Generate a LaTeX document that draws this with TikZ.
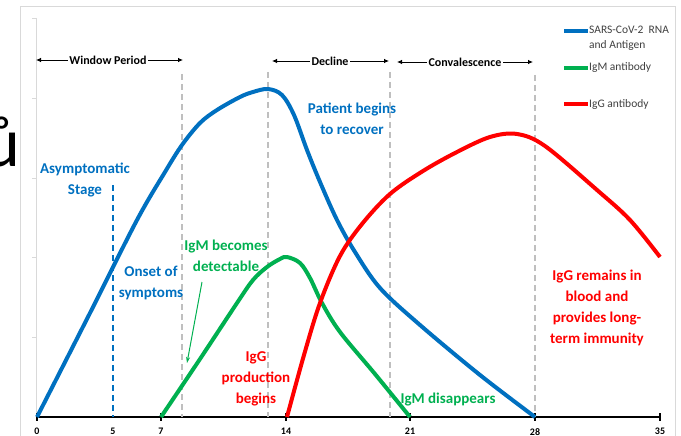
\documentclass[tikz,border=0pt]{standalone}
\usepackage{fontspec}
\setmainfont{Carlito}
\usetikzlibrary{arrows.meta}
\definecolor{rnablue}{HTML}{0070C0}
\definecolor{igmgreen}{HTML}{00B050}
\definecolor{iggred}{HTML}{FF0000}
\definecolor{framegray}{HTML}{D9D9D9}
\definecolor{dashgray}{HTML}{BFBFBF}
\definecolor{legendtext}{HTML}{404040}

\begin{document}
\begin{tikzpicture}
                [
                x=1pt, y=-1pt,
                curve/.style={line width=4pt, line join=round},
                period/.style={font=\fontsize{12}{14}\selectfont\bfseries, inner sep=1.5pt},
                periodarrow/.style={-{Latex[length=5pt,width=4.5pt]}, line width=0.8pt},
                phase/.style={dashgray, line width=1.5pt, dash pattern=on 6pt off 4pt},
                note/.style={font=\fontsize{15}{21}\selectfont\bfseries, align=center, anchor=base, inner sep=0pt},
                ticklabel/.style={font=\fontsize{10}{12}\selectfont\bfseries, anchor=north, inner sep=0pt},
                legendline/.style={line width=4pt},
                legendlabel/.style={font=\fontsize{11.5}{15}\selectfont, text=legendtext, anchor=base west, inner sep=0pt, align=left}
                ]
            \useasboundingbox (0,0) rectangle (681,436);
            \node[font=\fontsize{70}{80}\selectfont, anchor=base, inner sep=0pt] (cut) at (2,167) {ů};
            % chart frame and axes
            \draw[framegray] (20,436) -- (20,6) -- (675,6) -- (675,436);
            \draw[framegray] (36,18) -- (36,417);
            \foreach \y in {18,98,178,257,337}
                \draw[framegray] (32,\y) -- (36,\y);
            \draw[line width=1.8pt] (36,417) -- (661,417);
            \foreach \x in {37,161,286,410,535,660}
                \draw[line width=1.2pt] (\x,413) -- (\x,421);
            \foreach \x/\t in {37/0,113/5,161/7,286/14,410/21,535/28,660/35}
                \node[ticklabel] (t\t) at (\x,428) {\t};
            % phases
            \draw[phase] (182,74) -- (182,417);
            \draw[phase] (268,72) -- (268,417);
            \draw[phase] (390,72) -- (390,417);
            \draw[phase] (535,75) -- (535,417);
            \draw[rnablue, line width=1.3pt, dash pattern=on 6pt off 4pt] (113,185) -- (113,417);
            \node[period] (wp) at (108,60) {Window Period};
            \coordinate (wpL) at (36,60);
            \coordinate (wpR) at (183,60);
            \draw[periodarrow] (wp) -- (wpL);
            \draw[periodarrow] (wp) -- (wpR);
            \node[period] (dec) at (330,61) {Decline};
            \coordinate (decL) at (272,61);
            \coordinate (decR) at (389,61);
            \draw[periodarrow] (dec) -- (decL);
            \draw[periodarrow] (dec) -- (decR);
            \node[period] (conv) at (465,62) {Convalescence};
            \coordinate (convL) at (397,62);
            \coordinate (convR) at (533,62);
            \draw[periodarrow] (conv) -- (convL);
            \draw[periodarrow] (conv) -- (convR);
            % curves
            \draw[curve, rnablue] plot[smooth, tension=0.55] coordinates {(37,417) (90,313) (137,220) (165,172) (182,145) (200,123) (217,110) (240,97) (253,92) (268,89) (282,95) (294,115) (307,150) (320,182) (337,220) (355,252) (380,288) (420,325) (480,375) (535,417)};
            \draw[curve, igmgreen] plot[smooth, tension=0.55] coordinates {(161,417) (200,359) (237,303) (253,280) (267,267) (280,259) (287,257) (300,263) (310,278) (322,303) (340,332) (375,374) (410,417)};
            \draw[curve, iggred] plot[smooth, tension=0.55] coordinates {(287,417) (304,355) (320,303) (340,256) (362,224) (390,194) (423,171) (457,152) (490,137) (517,134) (545,146) (597,190) (630,220) (660,257)};
            % notes
            \node[note, rnablue] (asym) at (85,194) {Asymptomatic\\Stage};
            \node[note, rnablue] (recover) at (352,135) {Patient begins\\to recover};
            \node[note, rnablue] (onset) at (151,297) {Onset of\\symptoms};
            \node[note, igmgreen] (igmup) at (226,271) {IgM becomes\\detectable};
            \node[note, iggred] (iggstart) at (256,403) {IgG\\production\\begins};
            \node[note, igmgreen] (igmgone) at (448,403) {IgM disappears};
            \node[note, iggred] (igglong) at (597,343) {IgG remains in\\blood and\\provides long-\\term immunity};
            \coordinate (igmtail) at (202,282);
            \coordinate (igmtip) at (187,363);
            \draw[igmgreen, line width=1pt, -{Stealth[length=6pt,width=4pt]}] (igmtail) -- (igmtip);
            % legend
            \draw[legendline, rnablue] (564,31) -- (588,31);
            \draw[legendline, igmgreen] (564,68) -- (588,68);
            \draw[legendline, iggred] (564,104) -- (588,104);
            \node[legendlabel] (lgrna) at (589,49) {SARS-CoV-2~~RNA\\and Antigen};
            \node[legendlabel] (lgigm) at (589,71) {IgM antibody};
            \node[legendlabel] (lgigg) at (589,107) {IgG antibody};
            \end{tikzpicture}
\end{document}
